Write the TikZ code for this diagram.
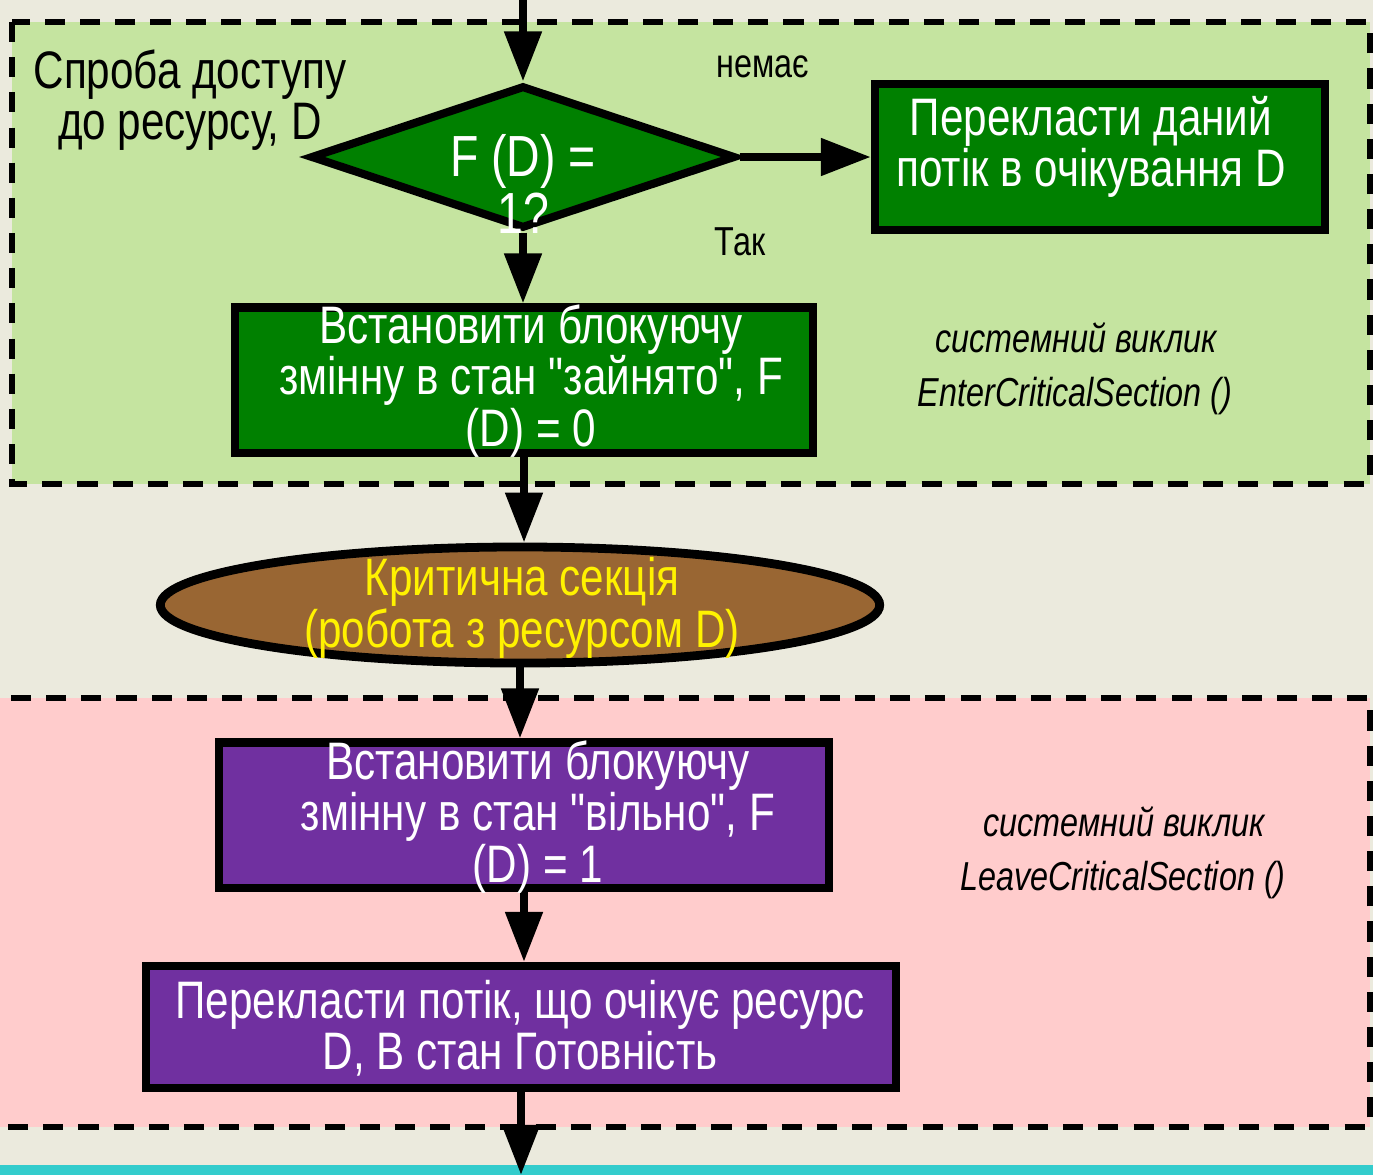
\documentclass[tikz,border=0pt]{standalone}
\usepackage{fontspec}
\setmainfont[FakeStretch=0.8,Ligatures=TeXOff]{Liberation Sans}
\usetikzlibrary{shapes.geometric,arrows.meta}
\definecolor{paper}{HTML}{EBEADD}
\definecolor{zonegreen}{HTML}{C5E4A0}
\definecolor{zonepink}{HTML}{FFCCCC}
\definecolor{okgreen}{HTML}{008000}
\definecolor{procviolet}{HTML}{7030A0}
\definecolor{critbrown}{HTML}{996633}
\definecolor{band}{HTML}{33CCCC}
\begin{document}
\begin{tikzpicture}[x=0.01cm,y=-0.01cm,
  zone/.style={draw=black,line width=1.7pt,dash pattern=on 5.7pt off 4.3pt},
  blockbox/.style={rectangle,draw=black,line width=2.3pt,inner sep=0pt},
  bigtext/.style={align=center,font=\fontsize{15}{14.6}\selectfont,inner sep=0pt},
  smalltext/.style={font=\fontsize{11.5}{13}\selectfont,inner sep=0pt},
  noteit/.style={font=\fontsize{11.5}{13}\selectfont\itshape,inner sep=0pt},
  flow/.style={line width=2.3pt,-{Triangle[length=0.5cm,width=0.36cm]}}]
\useasboundingbox (0,0) rectangle (1373,1175);
% page background and bottom band
\fill[paper] (0,0) rectangle (1373,1175);
\fill[band] (0,1165) rectangle (1373,1175);
% dashed zones: acquire (green) and release (pink)
\begin{scope}
  \clip (0,0) rectangle (1373,1175);
  \draw[zone,fill=zonegreen] (12,22) rectangle (1370,484);
  \draw[zone,fill=zonepink] (-20,698) rectangle (1370,1127);
\end{scope}

% shapes
\node[diamond,draw=black,line width=2.3pt,fill=okgreen,inner sep=0pt,
      minimum width=4.25cm,minimum height=1.43cm] (dec) at (523,157) {};
\node[blockbox,fill=okgreen,minimum width=4.5cm,minimum height=1.46cm] (wait) at (1100,157) {};
\node[blockbox,fill=okgreen,minimum width=5.78cm,minimum height=1.45cm] (lock) at (524,380) {};
\node[ellipse,draw=black,line width=2.5pt,fill=critbrown,inner sep=0pt,
      minimum width=7.19cm,minimum height=1.16cm] (crit) at (520,605) {};
\node[blockbox,fill=procviolet,minimum width=6.10cm,minimum height=1.45cm] (unlock) at (524,815) {};
\node[blockbox,fill=procviolet,minimum width=7.50cm,minimum height=1.22cm] (wake) at (521,1027) {};

\coordinate (entry) at (523,0);
\coordinate (exit) at (521,1175);

% connectors
\draw[flow] (entry) -- (entry |- dec.north);
\draw[flow] (dec.east) -- (wait.west);
\draw[flow] (dec.south) -- (dec.south |- lock.north);
\draw[flow] (lock.south) -- (lock.south |- crit.north);
\draw[flow] (crit.south) -- (crit.south |- unlock.north);
\draw[flow] (unlock.south) -- (unlock.south |- wake.north);
\draw[flow] (wake.south) -- (exit);

% texts
\node[bigtext,text=white,font=\fontsize{16.5}{16}\selectfont] (dectext) at (523,184) {F (D) =\\1?};
\node[bigtext,text=white] (waittext) at (1091,147) {Перекласти даний\\потік в очікування D};
\node[bigtext,text=white] (locktext) at (531,381) {Встановити блокуючу\\змінну в стан "зайнято", F\\(D) = 0};
\node[bigtext,text=yellow] (crittext) at (522,608) {Критична секція\\(робота з ресурсом D)};
\node[bigtext,text=white] (unlocktext) at (538,817) {Встановити блокуючу\\змінну в стан "вільно", F\\(D) = 1};
\node[bigtext,text=white] (waketext) at (520,1028) {Перекласти потік, що очікує ресурс\\D, В стан Готовність};

\node[bigtext] (title) at (190,100) {Спроба доступу\\до ресурсу, D};
\node[smalltext] (no) at (763,67) {немає};
\node[smalltext] (yes) at (740,242) {Так};
\node[noteit] (ecall) at (1076,338) {системний виклик};
\node[noteit] (ename) at (1075,396) {EnterCriticalSection ()};
\node[noteit] (lcall) at (1124,822) {системний виклик};
\node[noteit] (lname) at (1123,880) {LeaveCriticalSection ()};
\end{tikzpicture}
\end{document}
